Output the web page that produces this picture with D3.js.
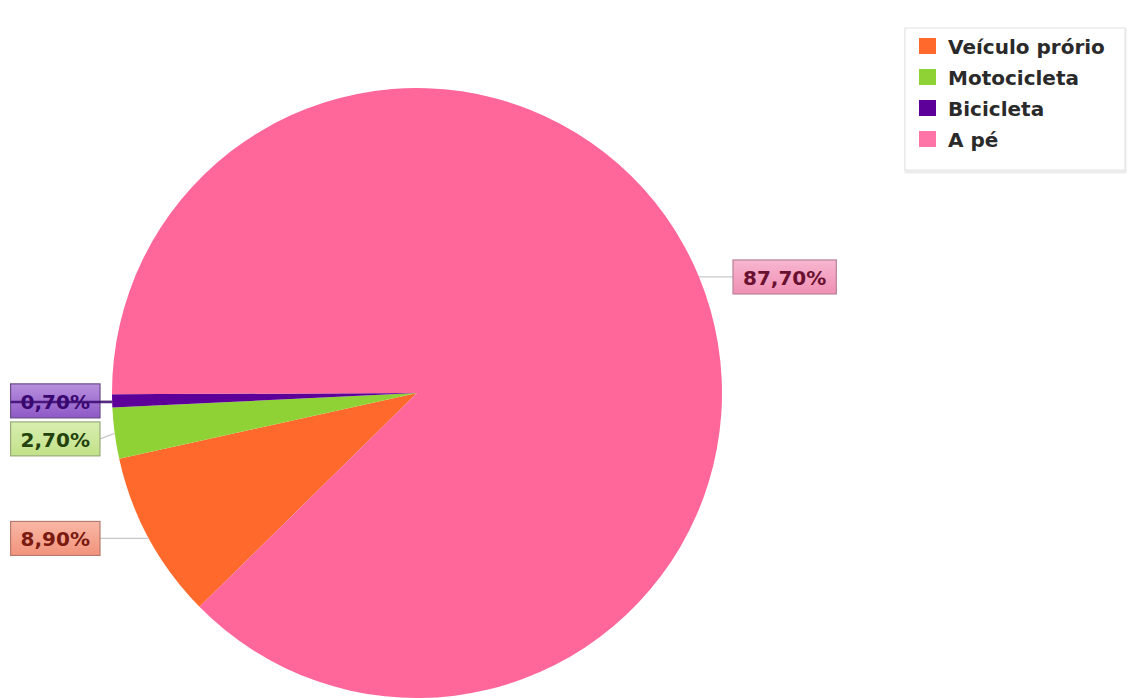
<!DOCTYPE html>
<html>
<head>
<meta charset="utf-8">
<script src="https://cdn.jsdelivr.net/npm/d3@7"></script>
<style>
  html, body { margin: 0; padding: 0; background: #ffffff; }
  svg { display: block; }
  text { font-family: "DejaVu Sans", sans-serif; font-weight: bold; }
</style>
</head>
<body>
<svg id="chart" width="1138" height="698"></svg>
<script>
// Meio de transporte utilizado (percentual)
const categories = ["Veículo prório", "Motocicleta", "Bicicleta", "A pé"];
const values = [8.9, 2.7, 0.7, 87.7];
const valueLabels = ["8,90%", "2,70%", "0,70%", "87,70%"];

const sliceColors = ["#ff6a2c", "#8fd236", "#5c0099", "#ff6699"];
const swatchColors = ["#ff6a2c", "#8fd236", "#5c0099", "#ff74a6"];
const labelFillTop = ["#f9b8a6", "#d8eeb0", "#b891de", "#f7b6cf"];
const labelFillBottom = ["#f2937c", "#c2e189", "#8e58c6", "#f090b4"];
const labelStroke = ["#b87a6c", "#98ac78", "#6b4a8a", "#b88096"];
const labelText = ["#7a1a10", "#24420c", "#3a0870", "#6a1030"];

const width = 1138, height = 698;
const cx = 417, cy = 393, radius = 305;
const startAngle = 225.5 * Math.PI / 180;

const svg = d3.select("#chart");

// Gradients for the value label boxes
const defs = svg.append("defs");
categories.forEach((c, i) => {
  const g = defs.append("linearGradient")
    .attr("id", "lbl" + i).attr("x1", 0).attr("y1", 0).attr("x2", 0).attr("y2", 1);
  g.append("stop").attr("offset", "0%").attr("stop-color", labelFillTop[i]);
  g.append("stop").attr("offset", "100%").attr("stop-color", labelFillBottom[i]);
});

const pie = d3.pie()
  .sort(null)
  .value(d => d)
  .startAngle(startAngle)
  .endAngle(startAngle + 2 * Math.PI);

const arcs = pie(values);
const arc = d3.arc().innerRadius(0).outerRadius(radius);

const gPie = svg.append("g").attr("transform", `translate(${cx},${cy})`);
gPie.selectAll("path.slice")
  .data(arcs)
  .join("path")
  .attr("class", "slice")
  .attr("d", arc)
  .attr("fill", (d, i) => sliceColors[i]);

// Value labels placed beside the pie, aligned with the edge point of each slice
const boxH = 34, padX = 10, gapLeft = 12, gapRight = 11, minSpacing = 38;
const labels = arcs.map((d, i) => {
  const mid = (d.startAngle + d.endAngle) / 2;
  const ex = cx + radius * Math.sin(mid);
  const ey = cy - radius * Math.cos(mid);
  return { i, mid, ex, ey, y: ey, left: Math.sin(mid) < 0 };
});

// keep boxes on the same side from overlapping
[true, false].forEach(side => {
  const group = labels.filter(l => l.left === side).sort((a, b) => a.y - b.y);
  for (let k = 1; k < group.length; k++) {
    if (group[k].y - group[k - 1].y < minSpacing) group[k].y = group[k - 1].y + minSpacing;
  }
});

const gLeaders = svg.append("g");
const gLabels = svg.append("g");

labels.forEach(l => {
  const i = l.i;
  const g = gLabels.append("g");
  const t = g.append("text")
    .attr("font-size", 20)
    .attr("fill", labelText[i])
    .attr("dominant-baseline", "central")
    .text(valueLabels[i]);
  const tw = t.node().getComputedTextLength();
  const bw = tw + 2 * padX;
  const bx = l.left ? (cx - radius - gapLeft - bw) : (cx + radius + gapRight);
  const by = l.y - boxH / 2;
  g.insert("rect", "text")
    .attr("x", bx).attr("y", by)
    .attr("width", bw).attr("height", boxH)
    .attr("fill", `url(#lbl${i})`)
    .attr("stroke", labelStroke[i])
    .attr("stroke-width", 1.2);
  t.attr("x", bx + padX).attr("y", l.y + 1);

  // leader line from the slice edge to the box
  const nearX = l.left ? bx + bw : bx;
  gLeaders.append("line")
    .attr("x1", l.ex).attr("y1", l.ey)
    .attr("x2", nearX).attr("y2", l.y)
    .attr("stroke", "#c8c8c8")
    .attr("stroke-width", 1.2);

  // very thin slices: leader runs through the box
  if (values[i] < 1) {
    g.append("line")
      .attr("x1", bx).attr("y1", l.y + 1)
      .attr("x2", l.ex).attr("y2", l.y + 1)
      .attr("stroke", labelText[i])
      .attr("stroke-width", 2.5)
      .attr("stroke-opacity", 0.85);
  }
});

// Legend
const lg = svg.append("g");
lg.append("rect")
  .attr("x", 906).attr("y", 30).attr("width", 219).attr("height", 142)
  .attr("fill", "none").attr("stroke", "#ececec").attr("stroke-width", 3);
lg.append("rect")
  .attr("x", 905).attr("y", 28).attr("width", 220).attr("height", 142)
  .attr("fill", "#ffffff").attr("stroke", "#e2e2e2").attr("stroke-width", 1);

const rowY = d3.scalePoint().domain(categories).range([46, 139]);
const items = lg.selectAll("g.item")
  .data(categories)
  .join("g")
  .attr("class", "item")
  .attr("transform", d => `translate(919,${rowY(d)})`);
items.append("rect")
  .attr("x", 0).attr("y", -8).attr("width", 17).attr("height", 16)
  .attr("fill", (d, i) => swatchColors[i]);
items.append("text")
  .attr("x", 29).attr("y", 1)
  .attr("dominant-baseline", "central")
  .attr("font-size", 20)
  .attr("fill", "#2a2a2a")
  .text(d => d);
</script>
</body>
</html>
